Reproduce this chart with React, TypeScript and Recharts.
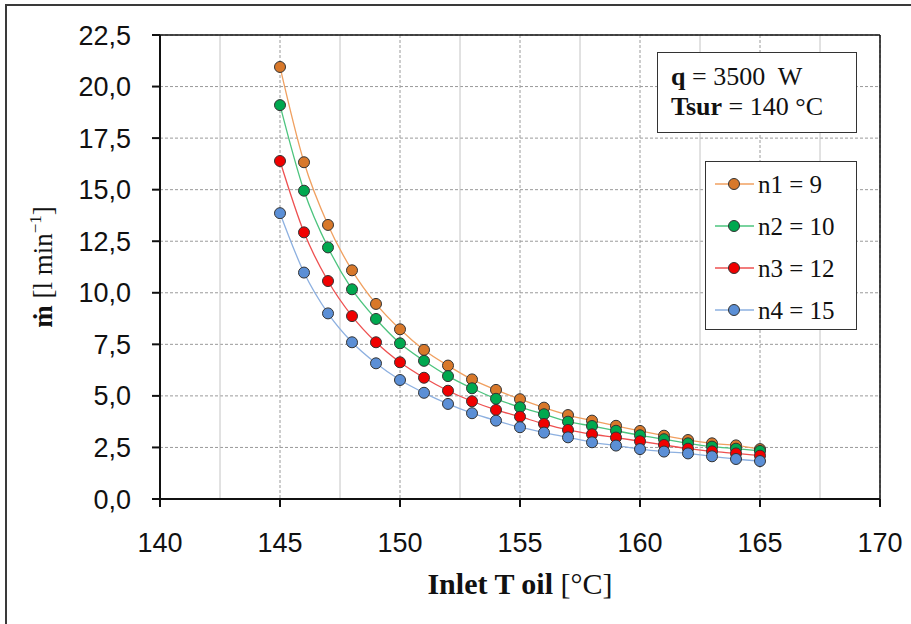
import React from 'react';
import { LineChart, Line, XAxis, YAxis, CartesianGrid, ReferenceLine, Label } from 'recharts';

const inletTemps = [145, 146, 147, 148, 149, 150, 151, 152, 153, 154, 155, 156, 157, 158, 159, 160, 161, 162, 163, 164, 165];
const n1Flow = [20.95, 16.33, 13.29, 11.09, 9.46, 8.23, 7.23, 6.47, 5.8, 5.29, 4.84, 4.43, 4.07, 3.8, 3.55, 3.3, 3.07, 2.86, 2.7, 2.6, 2.42];
const n2Flow = [19.1, 14.95, 12.2, 10.17, 8.73, 7.55, 6.7, 5.96, 5.37, 4.86, 4.45, 4.11, 3.75, 3.54, 3.31, 3.09, 2.9, 2.7, 2.54, 2.44, 2.33];
const n3Flow = [16.39, 12.93, 10.57, 8.87, 7.6, 6.63, 5.88, 5.25, 4.74, 4.32, 3.99, 3.64, 3.35, 3.14, 2.98, 2.8, 2.62, 2.44, 2.31, 2.21, 2.1];
const n4Flow = [13.86, 10.98, 9.0, 7.6, 6.58, 5.77, 5.15, 4.61, 4.16, 3.8, 3.48, 3.22, 2.99, 2.75, 2.59, 2.42, 2.3, 2.21, 2.07, 1.94, 1.84];

const xTicks = [140, 145, 150, 155, 160, 165, 170];
const xMinorLines = [142.5, 147.5, 152.5, 157.5, 162.5, 167.5];
const yTicks = [0, 2.5, 5, 7.5, 10, 12.5, 15, 17.5, 20, 22.5];

const seriesInfo = [
  { key: 'n1', name: 'n1 = 9', line: '#F0A060', marker: '#D8782A' },
  { key: 'n2', name: 'n2 = 10', line: '#4CC47E', marker: '#00A84F' },
  { key: 'n3', name: 'n3 = 12', line: '#EE5050', marker: '#F00000' },
  { key: 'n4', name: 'n4 = 15', line: '#8DB0E0', marker: '#5B8FD6' },
];

const data = inletTemps.map((t, i) => ({ t, n1: n1Flow[i], n2: n2Flow[i], n3: n3Flow[i], n4: n4Flow[i] }));

const serif = '"Liberation Serif", "Times New Roman", serif';
const sans = '"Liberation Sans", Arial, sans-serif';

// legend drawn as an overlay so it doesn't steal room from the plot
const LegendBox = () => (
  <div style={{ position: 'absolute', left: 705, top: 161, border: '1.5px solid #333', background: '#fff', width: 152, height: 169, boxSizing: 'border-box', paddingTop: 1 }}>
    {seriesInfo.map(s => (
      <div key={s.key} style={{ display: 'flex', alignItems: 'center', height: 42 }}>
        <svg width={52} height={20} style={{ marginLeft: 7 }}>
          <line x1={2} y1={10} x2={41} y2={10} stroke={s.line} strokeWidth={1.3} />
          <circle cx={21} cy={10} r={5.5} fill={s.marker} stroke="#333" strokeWidth={1} />
        </svg>
        <span style={{ fontFamily: serif, fontSize: 25, color: '#111', marginLeft: -7, lineHeight: 1 }}>{s.name}</span>
      </div>
    ))}
  </div>
);

const XTitle = (props: any) => {
  const vb = props.viewBox;
  return (
    <text x={vb.x + vb.width / 2} y={vb.y + 95} textAnchor="middle" fontFamily={serif} fontSize={30} fill="#111">
      <tspan fontWeight="bold">Inlet T oil </tspan>
      <tspan>[°C]</tspan>
    </text>
  );
};

const YTitle = (props: any) => {
  const vb = props.viewBox;
  const cx = vb.x + 52;
  const cy = vb.y + vb.height / 2;
  return (
    <text x={cx} y={cy} transform={`rotate(-90, ${cx}, ${cy})`} textAnchor="middle" fontFamily={serif} fontSize={27} fill="#111">
      <tspan fontWeight="bold">ṁ</tspan>
      <tspan> [l min</tspan>
      <tspan fontSize={17} dy={-11}>−1</tspan>
      <tspan dy={11}>]</tspan>
    </text>
  );
};

export default function App() {
  return (
    <div style={{ position: 'fixed', left: 0, top: 0, width: 911, height: 624, background: '#fff', overflow: 'hidden' }}>
      <div style={{ position: 'absolute', left: 5, top: 4, width: 1000, height: 700, borderTop: '2px solid #3a3a3a', borderLeft: '2px solid #3a3a3a' }} />
      <div style={{ position: 'absolute', left: 0, top: 0 }}>
        <LineChart width={911} height={624} data={data} margin={{ top: 35, right: 31, bottom: 15, left: 0 }}>
          <CartesianGrid stroke="#9a9a9a" strokeDasharray="3 2" strokeWidth={1} />
          {xMinorLines.map(v => (
            <ReferenceLine key={v} x={v} stroke="#c4c4c4" strokeWidth={1} />
          ))}
          <ReferenceLine y={22.5} stroke="#111" strokeWidth={1.5} />
          <ReferenceLine x={170} stroke="#111" strokeWidth={1.5} />
          <XAxis
            dataKey="t"
            type="number"
            domain={[140, 170]}
            ticks={xTicks}
            height={110}
            tickSize={8}
            tickMargin={26}
            axisLine={{ stroke: '#111', strokeWidth: 2 }}
            tickLine={{ stroke: '#111', strokeWidth: 2 }}
            tick={{ fill: '#111', fontSize: 27, fontFamily: sans }}
          >
            <Label content={<XTitle />} />
          </XAxis>
          <YAxis
            type="number"
            domain={[0, 22.5]}
            ticks={yTicks}
            width={160}
            tickSize={8}
            tickMargin={21}
            interval={0}
            tickFormatter={(v: number) => v.toFixed(1).replace('.', ',')}
            axisLine={{ stroke: '#111', strokeWidth: 2 }}
            tickLine={{ stroke: '#111', strokeWidth: 2 }}
            tick={{ fill: '#111', fontSize: 27, fontFamily: sans }}
          >
            <Label content={<YTitle />} />
          </YAxis>
          {seriesInfo.map(s => (
            <Line
              key={s.key}
              type="monotone"
              dataKey={s.key}
              name={s.name}
              stroke={s.line}
              strokeWidth={1.3}
              dot={{ r: 5.5, fill: s.marker, stroke: '#333', strokeWidth: 1 }}
              isAnimationActive={false}
            />
          ))}
        </LineChart>
      </div>
      <LegendBox />
      <div style={{ position: 'absolute', left: 657, top: 52, width: 200, height: 81, boxSizing: 'border-box', border: '1.5px solid #333', background: '#fff', fontFamily: serif, fontSize: 26, color: '#111', padding: '9px 0 0 13px', lineHeight: '30px' }}>
        <div><b>q</b> = 3500&nbsp; W</div>
        <div><b>Tsur</b> = 140 °C</div>
      </div>
    </div>
  );
}
